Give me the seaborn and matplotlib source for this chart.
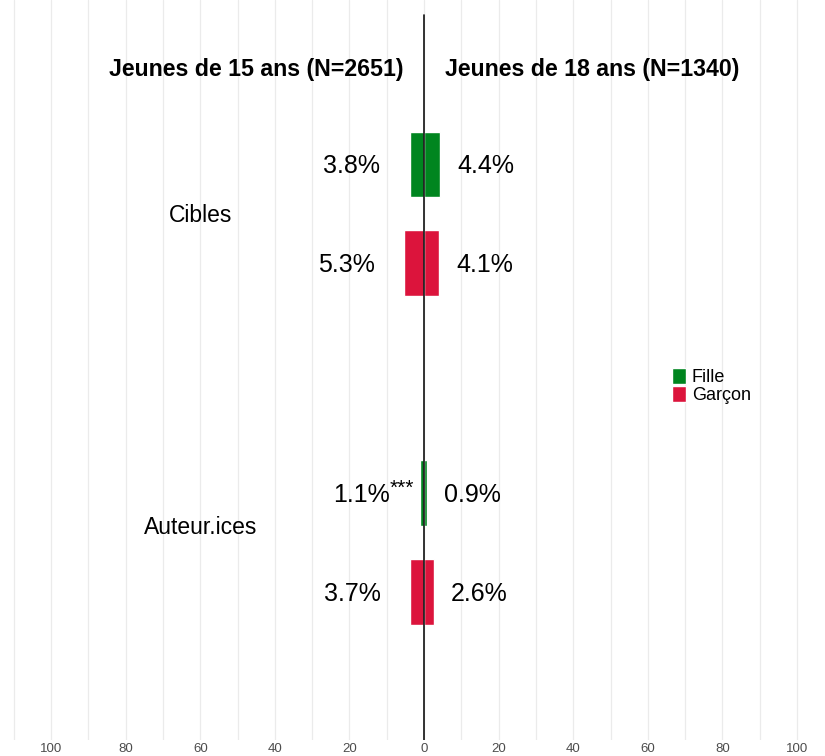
import numpy as np
import pandas as pd
import seaborn as sns
import matplotlib.pyplot as plt

categories = ["Cibles", "Auteur.ices"]
sexes = ["Fille", "Garçon"]
# values in %, order: (Cibles, Fille), (Cibles, Garçon), (Auteur.ices, Fille), (Auteur.ices, Garçon)
pct_15 = [3.8, 5.3, 1.1, 3.7]
pct_18 = [4.4, 4.1, 0.9, 2.6]
signif_15 = ["", "", "***", ""]
header_15 = "Jeunes de 15 ans (N=2651)"
header_18 = "Jeunes de 18 ans (N=1340)"
colors = {"Fille": "#00851F", "Garçon": "#DC143C"}

sns.set_style("white")
plt.rcParams["font.family"] = ["Liberation Sans", "DejaVu Sans"]
plt.rcParams["text.color"] = "black"

rows = [(c, s) for c in categories for s in sexes]
df = pd.DataFrame({
    "categorie": [r[0] for r in rows],
    "sexe": [r[1] for r in rows],
    "v15": [-v for v in pct_15],
    "v18": pct_18,
})

fig = plt.figure(figsize=(8.25, 7.56), dpi=100)
ax = fig.add_axes([0, 16 / 756, 1, 740 / 756])

sns.barplot(data=df, x="v15", y="categorie", hue="sexe", order=categories,
            hue_order=sexes, palette=colors, orient="h", width=0.6, gap=1 / 3,
            saturation=1, errorbar=None, legend=False, ax=ax)
sns.barplot(data=df, x="v18", y="categorie", hue="sexe", order=categories,
            hue_order=sexes, palette=colors, orient="h", width=0.6, gap=1 / 3,
            saturation=1, errorbar=None, ax=ax)

# labels on each side
for k, sexe in enumerate(sexes):
    left_bars = ax.containers[k]
    for j in range(len(categories)):
        idx = j * 2 + k
        yc = left_bars[j].get_y() + left_bars[j].get_height() / 2 + 0.006
        v = pct_15[idx]
        ax.text(-(v + 8), yc, f"{v:.1f}%", ha="right", va="center", fontsize=18)
        if signif_15[idx]:
            ax.text(-(v + 8) - 0.1, yc - 0.022, signif_15[idx], ha="left",
                    va="center", fontsize=15)
        v = pct_18[idx]
        ax.text(v + 4.5, yc, f"{v:.1f}%", ha="left", va="center", fontsize=18)

for j, c in enumerate(categories):
    ax.text(-60, j + (0.004 if j == 0 else -0.045), c, ha="center", va="center",
            fontsize=16.5)

ax.text(-5.6, -0.44, header_15, ha="right", va="center", fontsize=16.7,
        fontweight="bold")
ax.text(5.6, -0.44, header_18, ha="left", va="center", fontsize=16.7,
        fontweight="bold")

ax.axvline(0, ymin=0, ymax=0.98, color="#111111", lw=1.2, zorder=5)

ticks = np.arange(-100, 101, 20)
ax.set_xticks(ticks)
ax.set_xticklabels([str(abs(t)) for t in ticks])
ax.set_xticks(np.arange(-110, 111, 10), minor=True)
ax.set_xlim(-113.7, 107.5)
ax.set_ylim(1.6, -0.65)
ax.grid(axis="x", which="both", color="#ebebeb", lw=0.9)
ax.set_axisbelow(True)
ax.tick_params(axis="x", which="both", length=0, pad=2.5, labelsize=9.5,
               labelcolor="#4d4d4d")
ax.set_yticks([])
ax.set_xlabel("")
ax.set_ylabel("")
for s in ax.spines.values():
    s.set_visible(False)

leg = ax.legend(loc="center left", bbox_to_anchor=(672 / 825, 1 - 386 / 756),
                bbox_transform=fig.transFigure, frameon=False, fontsize=13,
                handlelength=0.8, handleheight=0.95, handletextpad=0.3,
                labelspacing=0.0, borderpad=0, borderaxespad=0, title=None)

fig.savefig("out.png", dpi=100)
